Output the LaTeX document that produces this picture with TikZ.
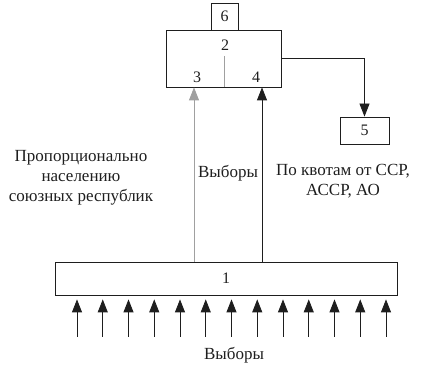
\documentclass[tikz,border=0pt]{standalone}
\usepackage{fontspec}
\setmainfont{Liberation Serif}
\usetikzlibrary{arrows.meta,positioning}
\definecolor{linecolor}{RGB}{30,30,30}
\definecolor{graycolor}{RGB}{160,160,160}
\tikzset{
box/.style={
  draw=linecolor,
  line width=0.8pt,
  minimum height=27pt,
  inner sep=0pt
},
numlabel/.style={
  font=\fontsize{16}{18}\selectfont,
  text=linecolor
},
textlabel/.style={
  font=\fontsize{17}{20}\selectfont,
  text=linecolor,
  align=center
},
arrow/.style={
  -{Triangle[length=13pt,width=10pt]},
  line width=0.8pt,
  draw=linecolor
}
}

\begin{document}
\begin{tikzpicture}[x=1pt, y=-1pt]
\useasboundingbox (0,0) rectangle (421,371);

% ============================================================================
% ВЕРХНИЕ БЛОКИ
% ============================================================================
\node[box, minimum width=115pt, minimum height=57pt] (box2) at (223.5, 58.5) {};
\node[box, minimum width=27pt] (box6) at (224.5, 16.5) {};
\node[numlabel] (n6) at (box6) {6};
\node[numlabel] (n2) at (225, 45) {2};
\node[numlabel] (n3) at (197, 77) {3};
\node[numlabel] (n4) at (256, 77) {4};
\coordinate (split) at (224, 56);
\draw[graycolor, line width=0.8pt] (split) -- (split |- box2.south);

\node[box, minimum width=49pt] (box5) at (364.5, 130.5) {};
\node[numlabel] (n5) at (box5) {5};
\draw[arrow] (box2.east) -| (box5.north);

% ============================================================================
% НИЖНИЙ БЛОК
% ============================================================================
\node[box, minimum width=342pt, minimum height=33pt] (box1) at (226, 278.5) {};
\node[numlabel] (n1) at (box1) {1};

% Стрелки к блокам 3 и 4
\coordinate (v3) at (194, 0);
\coordinate (v4) at (262, 0);
\draw[arrow, draw=graycolor] (v3 |- box1.north) -- (v3 |- box2.south);
\draw[arrow] (v4 |- box1.north) -- (v4 |- box2.south);

% Стрелки снизу
\foreach \i in {0,...,12} {
  \coordinate (tail\i) at (77+\i*25.75, 337);
  \draw[arrow, shorten >=4pt] (tail\i) -- (tail\i |- box1.south);
}

% ============================================================================
% ПОДПИСИ
% ============================================================================
\node[textlabel] (leftlabel) at (81, 178) {Пропорционально\\населению\\союзных республик};
\node[textlabel] (midlabel) at (228, 173) {Выборы};
\node[textlabel] (rightlabel) at (343, 181) {По квотам от ССР,\\АССР, АО};
\node[textlabel] (bottomlabel) at (234, 355) {Выборы};

\end{tikzpicture}
\end{document}
